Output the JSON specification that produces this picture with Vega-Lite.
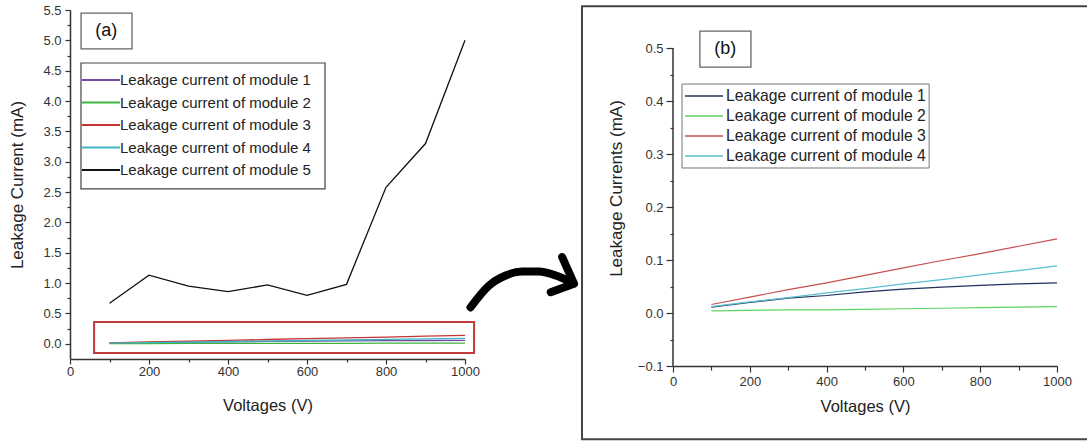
{
  "$schema": "https://vega.github.io/schema/vega-lite/v6.json",
  "background": "white",
  "padding": {"left": 8, "top": 4, "right": 0, "bottom": 0},
  "spacing": 1,
  "config": {
    "font": "Liberation Sans",
    "view": {"stroke": null},
    "axis": {
      "grid": false,
      "domainColor": "#333",
      "domainWidth": 1.5,
      "tickColor": "#333",
      "tickWidth": 1.2,
      "labelFontSize": 13,
      "labelColor": "#333",
      "labelFont": "Liberation Sans",
      "titleFont": "Liberation Sans",
      "titleFontWeight": "normal",
      "titleColor": "#222",
      "labelFlush": false,
      "labelOverlap": false
    },
    "legend": {
      "labelFont": "Liberation Sans",
      "labelColor": "#222",
      "labelLimit": 400
    }
  },
  "datasets": {
    "modules": [
      {"V": 100, "I": 0.011, "module": "Leakage current of module 1"},
      {"V": 200, "I": 0.020, "module": "Leakage current of module 1"},
      {"V": 300, "I": 0.028, "module": "Leakage current of module 1"},
      {"V": 400, "I": 0.033, "module": "Leakage current of module 1"},
      {"V": 500, "I": 0.040, "module": "Leakage current of module 1"},
      {"V": 600, "I": 0.045, "module": "Leakage current of module 1"},
      {"V": 700, "I": 0.049, "module": "Leakage current of module 1"},
      {"V": 800, "I": 0.052, "module": "Leakage current of module 1"},
      {"V": 900, "I": 0.055, "module": "Leakage current of module 1"},
      {"V": 1000, "I": 0.057, "module": "Leakage current of module 1"},
      {"V": 100, "I": 0.004, "module": "Leakage current of module 2"},
      {"V": 200, "I": 0.005, "module": "Leakage current of module 2"},
      {"V": 300, "I": 0.006, "module": "Leakage current of module 2"},
      {"V": 400, "I": 0.006, "module": "Leakage current of module 2"},
      {"V": 500, "I": 0.007, "module": "Leakage current of module 2"},
      {"V": 600, "I": 0.008, "module": "Leakage current of module 2"},
      {"V": 700, "I": 0.009, "module": "Leakage current of module 2"},
      {"V": 800, "I": 0.010, "module": "Leakage current of module 2"},
      {"V": 900, "I": 0.011, "module": "Leakage current of module 2"},
      {"V": 1000, "I": 0.012, "module": "Leakage current of module 2"},
      {"V": 100, "I": 0.016, "module": "Leakage current of module 3"},
      {"V": 200, "I": 0.030, "module": "Leakage current of module 3"},
      {"V": 300, "I": 0.044, "module": "Leakage current of module 3"},
      {"V": 400, "I": 0.057, "module": "Leakage current of module 3"},
      {"V": 500, "I": 0.071, "module": "Leakage current of module 3"},
      {"V": 600, "I": 0.085, "module": "Leakage current of module 3"},
      {"V": 700, "I": 0.099, "module": "Leakage current of module 3"},
      {"V": 800, "I": 0.112, "module": "Leakage current of module 3"},
      {"V": 900, "I": 0.126, "module": "Leakage current of module 3"},
      {"V": 1000, "I": 0.140, "module": "Leakage current of module 3"},
      {"V": 100, "I": 0.012, "module": "Leakage current of module 4"},
      {"V": 200, "I": 0.021, "module": "Leakage current of module 4"},
      {"V": 300, "I": 0.029, "module": "Leakage current of module 4"},
      {"V": 400, "I": 0.038, "module": "Leakage current of module 4"},
      {"V": 500, "I": 0.046, "module": "Leakage current of module 4"},
      {"V": 600, "I": 0.055, "module": "Leakage current of module 4"},
      {"V": 700, "I": 0.063, "module": "Leakage current of module 4"},
      {"V": 800, "I": 0.072, "module": "Leakage current of module 4"},
      {"V": 900, "I": 0.080, "module": "Leakage current of module 4"},
      {"V": 1000, "I": 0.089, "module": "Leakage current of module 4"},
      {"V": 100, "I": 0.67, "module": "Leakage current of module 5"},
      {"V": 200, "I": 1.13, "module": "Leakage current of module 5"},
      {"V": 300, "I": 0.95, "module": "Leakage current of module 5"},
      {"V": 400, "I": 0.86, "module": "Leakage current of module 5"},
      {"V": 500, "I": 0.97, "module": "Leakage current of module 5"},
      {"V": 600, "I": 0.80, "module": "Leakage current of module 5"},
      {"V": 700, "I": 0.98, "module": "Leakage current of module 5"},
      {"V": 800, "I": 2.58, "module": "Leakage current of module 5"},
      {"V": 900, "I": 3.30, "module": "Leakage current of module 5"},
      {"V": 1000, "I": 5.00, "module": "Leakage current of module 5"}
    ],
    "arrow": [
      {"ax": 1014, "ay": 0.60},
      {"ax": 1061, "ay": 0.96},
      {"ax": 1103, "ay": 1.125},
      {"ax": 1144, "ay": 1.19},
      {"ax": 1187, "ay": 1.19},
      {"ax": 1230, "ay": 1.125},
      {"ax": 1268, "ay": 1.016}
    ],
    "head": [
      {"hx": 1246, "hy": 1.43, "ord": 1},
      {"hx": 1276, "hy": 0.99, "ord": 2},
      {"hx": 1217, "hy": 0.85, "ord": 3}
    ]
  },
  "resolve": {"scale": {"color": "independent"}, "legend": {"color": "independent"}},
  "hconcat": [
    {
      "width": 395,
      "height": 349,
      "resolve": {"axis": {"x": "independent", "y": "independent"}},
      "layer": [
        {
          "data": {"values": [{}]},
          "mark": {"type": "rect", "fill": null, "stroke": "#c0393b", "strokeWidth": 2},
          "encoding": {
            "x": {"datum": 61, "type": "quantitative", "scale": {"domain": [0, 1000], "nice": false},
                  "axis": {"orient": "bottom", "values": [100, 300, 500, 700, 900], "labels": false, "domain": false, "tickSize": 3, "title": null}},
            "x2": {"datum": 1023},
            "y": {"datum": -0.15, "type": "quantitative", "scale": {"domain": [-0.25, 5.5], "nice": false, "zero": false},
                  "axis": {"orient": "left", "values": [0.25, 0.75, 1.25, 1.75, 2.25, 2.75, 3.25, 3.75, 4.25, 4.75, 5.25], "labels": false, "domain": false, "tickSize": 3, "title": null}},
            "y2": {"datum": 0.36}
          }
        },
        {
          "data": {"values": [{}]},
          "mark": {"type": "rect", "fill": "white", "stroke": "#444", "strokeWidth": 1.2},
          "encoding": {
            "x": {"datum": 27.8, "type": "quantitative", "scale": {"domain": [0, 1000], "nice": false}, "axis": null},
            "x2": {"datum": 645.6},
            "y": {"datum": 2.552, "type": "quantitative", "scale": {"domain": [-0.25, 5.5], "nice": false, "zero": false}, "axis": null},
            "y2": {"datum": 4.627}
          }
        },
        {
          "data": {"name": "modules"},
          "mark": {"type": "line", "strokeWidth": 1.3},
          "encoding": {
            "x": {
              "field": "V", "type": "quantitative",
              "scale": {"domain": [0, 1000], "nice": false},
              "axis": {
                "orient": "bottom",
                "title": "Voltages (V)",
                "titleFontSize": 16.5,
                "values": [0, 200, 400, 600, 800, 1000],
                "format": "d",
                "tickSize": 5,
                "labelPadding": 1,
                "titlePadding": 19
              }
            },
            "y": {
              "field": "I", "type": "quantitative",
              "scale": {"domain": [-0.25, 5.5], "nice": false, "zero": false},
              "axis": {
                "orient": "left",
                "title": "Leakage Current (mA)",
                "titleFontSize": 17,
                "values": [0, 0.5, 1, 1.5, 2, 2.5, 3, 3.5, 4, 4.5, 5, 5.5],
                "format": ".1f",
                "tickSize": 5,
                "labelPadding": 4,
                "titlePadding": 16
              }
            },
            "color": {
              "field": "module", "type": "nominal",
              "scale": {
                "domain": ["Leakage current of module 1", "Leakage current of module 2", "Leakage current of module 3", "Leakage current of module 4", "Leakage current of module 5"],
                "range": ["#7447a6", "#3db53d", "#c83434", "#3fb6c6", "#111111"]
              },
              "legend": {
                "title": null,
                "orient": "none",
                "legendX": 11,
                "legendY": 61,
                "symbolType": "stroke",
                "symbolSize": 1444,
                "symbolStrokeWidth": 2,
                "labelFontSize": 15,
                "padding": 0,
                "clipHeight": 18,
                "rowPadding": 4.5,
                "labelOffset": -1
              }
            }
          }
        },
        {
          "data": {"values": [{}]},
          "mark": {"type": "rect", "fill": "white", "stroke": "#666", "strokeWidth": 1.3},
          "encoding": {
            "x": {"datum": 28, "type": "quantitative", "scale": {"domain": [0, 1000], "nice": false}, "axis": null},
            "x2": {"datum": 157},
            "y": {"datum": 4.86, "type": "quantitative", "scale": {"domain": [-0.25, 5.5], "nice": false, "zero": false}, "axis": null},
            "y2": {"datum": 5.45}
          }
        },
        {
          "data": {"values": [{"label": "(a)"}]},
          "mark": {"type": "text", "fontSize": 18, "color": "#111", "font": "Liberation Sans"},
          "encoding": {
            "x": {"datum": 92, "type": "quantitative", "scale": {"domain": [0, 1000], "nice": false}, "axis": null},
            "y": {"datum": 5.155, "type": "quantitative", "scale": {"domain": [-0.25, 5.5], "nice": false, "zero": false}, "axis": null},
            "text": {"field": "label"}
          }
        },
        {
          "data": {"name": "arrow"},
          "mark": {"type": "line", "color": "black", "strokeWidth": 8, "strokeCap": "round", "strokeJoin": "round", "interpolate": "monotone"},
          "encoding": {
            "x": {"field": "ax", "type": "quantitative", "scale": {"domain": [0, 1000], "nice": false}, "axis": null},
            "y": {"field": "ay", "type": "quantitative", "scale": {"domain": [-0.25, 5.5], "nice": false, "zero": false}, "axis": null}
          }
        },
        {
          "data": {"name": "head"},
          "mark": {"type": "line", "color": "black", "strokeWidth": 8, "strokeCap": "round", "strokeJoin": "round"},
          "encoding": {
            "x": {"field": "hx", "type": "quantitative", "scale": {"domain": [0, 1000], "nice": false}, "axis": null},
            "y": {"field": "hy", "type": "quantitative", "scale": {"domain": [-0.25, 5.5], "nice": false, "zero": false}, "axis": null},
            "order": {"field": "ord"}
          }
        }
      ]
    },
    {
      "width": 384,
      "height": 356,
      "resolve": {"axis": {"x": "independent", "y": "independent"}},
      "layer": [
        {
          "data": {"values": [{}]},
          "mark": {"type": "rect", "fill": null, "stroke": "#444", "strokeWidth": 2},
          "encoding": {
            "x": {"datum": -237, "type": "quantitative", "scale": {"domain": [0, 1000], "nice": false},
                  "axis": {"orient": "bottom", "values": [100, 300, 500, 700, 900], "labels": false, "domain": false, "tickSize": 4, "title": null}},
            "x2": {"datum": 1100},
            "y": {"datum": -0.238, "type": "quantitative", "scale": {"domain": [-0.1, 0.5717], "nice": false, "zero": false},
                  "axis": {"orient": "left", "values": [-0.05, 0.05, 0.15, 0.25, 0.35, 0.45], "labels": false, "domain": false, "tickSize": 3, "title": null}},
            "y2": {"datum": 0.579}
          }
        },
        {
          "data": {"values": [{}]},
          "mark": {"type": "rule", "color": "#333", "strokeWidth": 1.5},
          "encoding": {
            "x": {"datum": 0, "type": "quantitative", "scale": {"domain": [0, 1000], "nice": false}, "axis": null},
            "y": {"datum": -0.1, "type": "quantitative", "scale": {"domain": [-0.1, 0.5717], "nice": false, "zero": false}, "axis": null},
            "y2": {"datum": 0.5}
          }
        },
        {
          "data": {"values": [{}]},
          "mark": {"type": "rect", "fill": "white", "stroke": "#777", "strokeWidth": 1},
          "encoding": {
            "x": {"datum": 23.5, "type": "quantitative", "scale": {"domain": [0, 1000], "nice": false}, "axis": null},
            "x2": {"datum": 667},
            "y": {"datum": 0.2736, "type": "quantitative", "scale": {"domain": [-0.1, 0.5717], "nice": false, "zero": false}, "axis": null},
            "y2": {"datum": 0.432}
          }
        },
        {
          "data": {"name": "modules"},
          "transform": [{"filter": {"field": "module", "oneOf": ["Leakage current of module 1", "Leakage current of module 2", "Leakage current of module 3", "Leakage current of module 4"]}}],
          "mark": {"type": "line", "strokeWidth": 1.2},
          "encoding": {
            "x": {
              "field": "V", "type": "quantitative",
              "scale": {"domain": [0, 1000], "nice": false},
              "axis": {
                "orient": "bottom",
                "title": "Voltages (V)",
                "titleFontSize": 16.5,
                "values": [0, 200, 400, 600, 800, 1000],
                "format": "d",
                "tickSize": 6,
                "labelPadding": 3,
                "titlePadding": 10
              }
            },
            "y": {
              "field": "I", "type": "quantitative",
              "scale": {"domain": [-0.1, 0.5717], "nice": false, "zero": false},
              "axis": {
                "orient": "left",
                "title": "Leakage Currents (mA)",
                "titleFontSize": 17,
                "domain": false,
                "values": [-0.1, 0, 0.1, 0.2, 0.3, 0.4, 0.5],
                "format": ".1f",
                "tickSize": 7,
                "labelPadding": 3,
                "titlePadding": 12
              }
            },
            "color": {
              "field": "module", "type": "nominal",
              "scale": {
                "domain": ["Leakage current of module 1", "Leakage current of module 2", "Leakage current of module 3", "Leakage current of module 4"],
                "range": ["#22305e", "#5fd35f", "#c65050", "#57c1d1"]
              },
              "legend": {
                "title": null,
                "orient": "none",
                "legendX": 11,
                "legendY": 77,
                "symbolType": "stroke",
                "symbolSize": 1444,
                "symbolStrokeWidth": 1.3,
                "labelFontSize": 15.7,
                "padding": 0,
                "clipHeight": 18,
                "rowPadding": 2,
                "labelOffset": 2
              }
            }
          }
        },
        {
          "data": {"values": [{}]},
          "mark": {"type": "rect", "fill": "white", "stroke": "#666", "strokeWidth": 1.3},
          "encoding": {
            "x": {"datum": 70, "type": "quantitative", "scale": {"domain": [0, 1000], "nice": false}, "axis": null},
            "x2": {"datum": 203},
            "y": {"datum": 0.464, "type": "quantitative", "scale": {"domain": [-0.1, 0.5717], "nice": false, "zero": false}, "axis": null},
            "y2": {"datum": 0.532}
          }
        },
        {
          "data": {"values": [{"label": "(b)"}]},
          "mark": {"type": "text", "fontSize": 18, "color": "#111", "font": "Liberation Sans"},
          "encoding": {
            "x": {"datum": 136, "type": "quantitative", "scale": {"domain": [0, 1000], "nice": false}, "axis": null},
            "y": {"datum": 0.498, "type": "quantitative", "scale": {"domain": [-0.1, 0.5717], "nice": false, "zero": false}, "axis": null},
            "text": {"field": "label"}
          }
        }
      ]
    }
  ]
}
